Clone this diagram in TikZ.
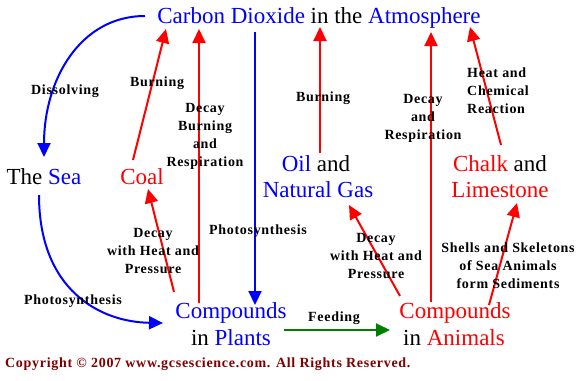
\documentclass[tikz,border=0pt]{standalone}
\usepackage{fontspec}
\setmainfont{Liberation Serif}
\usetikzlibrary{arrows.meta}
\definecolor{cblue}{RGB}{0,0,255}
\definecolor{cred}{RGB}{255,0,0}
\definecolor{cgreen}{RGB}{0,128,0}
\definecolor{cdark}{RGB}{128,0,0}
\begin{document}
\begin{tikzpicture}[x=1pt,y=-1pt,
  big/.style={font=\fontsize{23}{26}\selectfont, inner sep=0pt, anchor=base},
  lbl/.style={font=\bfseries\fontsize{14}{18}\selectfont\addfontfeature{LetterSpace=5}, align=center, inner sep=0pt},
  arr/.style={line width=2pt, -{Triangle[length=14pt,width=13pt]}},
]
\useasboundingbox[fill=white] (0,0) rectangle (580,380);

% main texts
\node[big] (co2) at (319,23) {\textcolor{cblue}{Carbon Dioxide} in the \textcolor{cblue}{Atmosphere}};
\node[big] (sea) at (44,184) {The \textcolor{cblue}{Sea}};
\node[big, text=cred] (coal) at (142,184) {Coal};
\node[big] (oil) at (316,171) {\textcolor{cblue}{Oil} and};
\node[big, text=cblue] (gas) at (318,197) {Natural Gas};
\node[big] (chalk) at (500,171) {\textcolor{cred}{Chalk} and};
\node[big, text=cred] (lime) at (500,197) {Limestone};
\node[big, text=cblue] (cplants) at (231,318) {Compounds};
\node[big] (plants) at (231,345) {in \textcolor{cblue}{Plants}};
\node[big, text=cred] (canimals) at (455,318) {Compounds};
\node[big] (animals) at (454,345) {in \textcolor{cred}{Animals}};
\node[font=\bfseries\fontsize{14}{16}\selectfont\addfontfeature{LetterSpace=5}, text=cdark, inner sep=0pt, anchor=base west] (copy) at (5,367) {Copyright © 2007 www.gcsescience.com. All Rights Reserved.};

% arrow end points
\coordinate (d1) at (145,16);   \coordinate (d2) at (44,157);
\coordinate (p1) at (39,195);   \coordinate (p2) at (163,323);
\coordinate (b1) at (133,160);  \coordinate (b2) at (166,29);
\coordinate (r1) at (199,303);  \coordinate (r2) at (199,29);
\coordinate (m1) at (255,32);   \coordinate (m2) at (255,305);
\coordinate (o1) at (320,153);  \coordinate (o2) at (320,27);
\coordinate (a1) at (431,302);  \coordinate (a2) at (431,32);
\coordinate (h1) at (501,145);  \coordinate (h2) at (470,27);
\coordinate (c1) at (174,292);  \coordinate (c2) at (148,189);
\coordinate (g1) at (400,296);  \coordinate (g2) at (349,205);
\coordinate (s1) at (489,305);  \coordinate (s2) at (517,203);
\coordinate (f1) at (284,330);  \coordinate (f2) at (390,330);

% arrows
\draw[arr, cblue] (d1) .. controls (80,16) and (44,80) .. (d2);
\draw[arr, cblue] (p1) .. controls (39,290) and (100,322) .. (p2);
\draw[arr, cred] (b1) -- (b2);
\draw[arr, cred] (r1) -- (r2);
\draw[arr, cblue] (m1) -- (m2);
\draw[arr, cred] (o1) -- (o2);
\draw[arr, cred] (a1) -- (a2);
\draw[arr, cred] (h1) -- (h2);
\draw[arr, cred] (c1) -- (c2);
\draw[arr, cred] (g1) -- (g2);
\draw[arr, cred] (s1) -- (s2);
\draw[arr, cgreen] (f1) -- (f2);

% labels
\node[lbl] (ldis) at (65,91) {Dissolving};
\node[lbl] (lbc) at (157,83) {Burning};
\node[lbl] (ldbr) at (205,136) {Decay\\Burning\\and\\Respiration};
\node[lbl] (lbo) at (323,98) {Burning};
\node[lbl] (ldr) at (423,118) {Decay\\and\\Respiration};
\node[lbl, align=left, anchor=west] (lhc) at (467,91) {Heat and\\Chemical\\Reaction};
\node[lbl] (ldc) at (153,251) {Decay\\with Heat and\\Pressure};
\node[lbl] (lpm) at (258,231) {Photosynthesis};
\node[lbl] (lpl) at (73,301) {Photosynthesis};
\node[lbl] (ldo) at (376,256) {Decay\\with Heat and\\Pressure};
\node[lbl] (lss) at (508,266) {Shells and Skeletons\\of Sea Animals\\form Sediments};
\node[lbl] (lfe) at (334,318) {Feeding};
\end{tikzpicture}
\end{document}
